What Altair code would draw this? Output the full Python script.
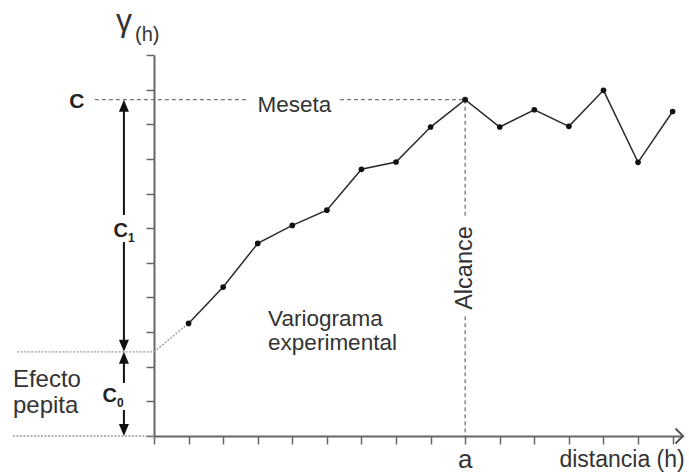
import altair as alt
import pandas as pd

# ---- data ----
dist = [1, 2, 3, 4, 5, 6, 7, 8, 9, 10, 11, 12, 13, 14, 15]
gamma = [3.25, 4.30, 5.56, 6.08, 6.52, 7.70, 7.91, 8.92, 9.71, 8.92, 9.42, 8.94, 9.98, 7.90, 9.37]
x_ticks = list(range(16))
y_ticks = list(range(12))
sill = 9.71      # C  (meseta)
nugget = 2.43    # C0 (efecto pepita)
range_a = 9      # a  (alcance)
arrow_x = -0.87  # position of the C1 / C0 double arrows

XS = alt.Scale(domain=[0, 15.3], nice=False, zero=False)
YS = alt.Scale(domain=[0, 11], nice=False, zero=False)
FONT = "Liberation Sans"

ax_style = dict(labels=False, title=None, grid=False, tickSize=8,
                domainColor="#666", tickColor="#666", domainWidth=2, tickWidth=1.5)
AX = alt.Axis(values=x_ticks, **ax_style)
AY = alt.Axis(values=y_ticks, **ax_style)


def xy(xf="x", yf="y"):
    return dict(x=alt.X(f"{xf}:Q", scale=XS, axis=AX, title=None),
                y=alt.Y(f"{yf}:Q", scale=YS, axis=AY, title=None))


base_df = pd.DataFrame({"d": dist, "g": gamma})

line = alt.Chart(base_df).mark_line(color="#2a2a2a", strokeWidth=1.5).encode(**xy("d", "g"))
pts = alt.Chart(base_df).mark_point(filled=True, color="#111", size=32, opacity=1).encode(**xy("d", "g"))


def segs(rows, **kw):
    df = pd.DataFrame(rows, columns=["x", "y", "x2", "y2"])
    return alt.Chart(df).mark_rule(**kw).encode(x2="x2:Q", y2="y2:Q", **xy())


dashed = segs([
    (-1.71, sill, 2.72, sill),
    (5.38, sill, range_a, sill),
    (range_a, sill, range_a, 6.29),
    (range_a, 3.46, range_a, 0),
], color="#777", strokeWidth=1.3, strokeDash=[4, 3])

dotted = segs([
    (-3.96, nugget, 0, nugget),
    (-4.08, 0, 0, 0),
    (0, nugget, dist[0], gamma[0]),
], color="#999", strokeWidth=1.3, strokeDash=[2, 1.5])

arrows = segs([
    (arrow_x, 9.40, arrow_x, 6.38),
    (arrow_x, 5.60, arrow_x, 2.75),
    (arrow_x, 2.10, arrow_x, 1.53),
    (arrow_x, 0.75, arrow_x, 0.30),
], color="#111", strokeWidth=2)


def heads(rows, shape):
    df = pd.DataFrame(rows, columns=["x", "y"])
    return alt.Chart(df).mark_point(shape=shape, filled=True, color="#111", size=100, opacity=1).encode(**xy())


up_heads = heads([(arrow_x, sill), (arrow_x, nugget)], "M0,0L-1,2.4L1,2.4Z")
down_heads = heads([(arrow_x, nugget), (arrow_x, 0)], "M0,0L-1,-2.4L1,-2.4Z")

axis_arrow = alt.Chart(pd.DataFrame({"x": [15.3], "y": [0]})).mark_point(
    shape="M-1,-1L0,0L-1,1", filled=False, color="#555", strokeWidth=2, size=225, opacity=1
).encode(**xy())


def texts(rows, **kw):
    df = pd.DataFrame(rows, columns=["x", "y", "t"])
    return alt.Chart(df).mark_text(font=FONT, baseline="alphabetic", **kw).encode(text="t:N", **xy())


t_main = texts([(4.06, 9.35, "Meseta")], fontSize=22.5, color="#333", align="center")
t_var = texts([
    (3.30, 3.18, "Variograma"),
    (3.30, 2.48, "experimental"),
], fontSize=22.5, color="#333", align="left")
t_efecto = texts([
    (-4.08, 1.41, "Efecto"),
    (-4.08, 0.66, "pepita"),
], fontSize=24, color="#333", align="left")
t_alc = texts([(range_a + 0.2, 4.85, "Alcance")], fontSize=23.5, color="#333", align="center", angle=270)
t_a = texts([(range_a, -0.92, "a")], fontSize=26, color="#333", align="center")
t_dist = texts([(15.35, -0.89, "distancia (h)")], fontSize=23, color="#333", align="right")
t_C = texts([(-2.23, 9.47, "C")], fontSize=21, fontWeight="bold", color="#222", align="center")
t_Cmain = texts([
    (-0.75, 5.74, "C"),
    (-1.07, 0.98, "C"),
], fontSize=20, fontWeight="bold", color="#222", align="right")
t_Csub = texts([
    (-0.75, 5.60, "1"),
    (-1.07, 0.84, "0"),
], fontSize=12, fontWeight="bold", color="#222", align="left")
t_gamma = texts([(-0.87, 11.69, "γ")], fontSize=32, color="#333", align="center")
t_h = texts([(-0.55, 11.40, "(h)")], fontSize=20, color="#333", align="left")

chart = alt.layer(
    dotted, dashed, line, pts, arrows, up_heads, down_heads, axis_arrow,
    t_main, t_var, t_efecto, t_alc, t_a, t_dist, t_C, t_Cmain, t_Csub, t_gamma, t_h,
).properties(
    width=529, height=381,
    autosize=alt.AutoSizeParams(type="none"),
    padding={"left": 154, "top": 55, "right": 6, "bottom": 37},
    background="white",
).configure_view(stroke=None)

chart.save("out.html", embed_options={"renderer": "svg", "actions": False})
